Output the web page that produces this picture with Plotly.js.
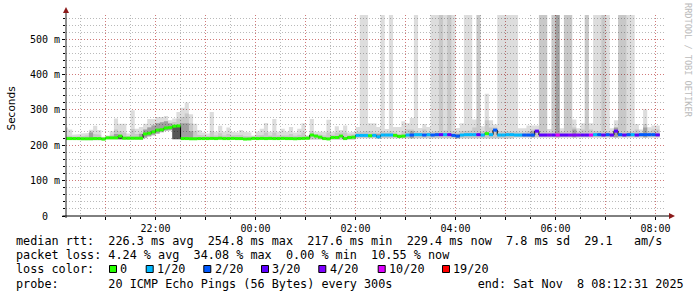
<!DOCTYPE html>
<html>
<head>
<meta charset="utf-8">
<script src="https://cdn.plot.ly/plotly-3.0.1.min.js"></script>
<style>
html,body{margin:0;padding:0;background:#fff;}
#chart{width:697px;height:297px;}
</style>
</head>
<body>
<div id="chart"></div>
<script>
// ---------------- DATA ----------------
// 5-minute steps starting 2025-11-07 20:10 (UTC wall clock), 143 steps
const seriesStart = '2025-11-07T20:10:00Z';
const stepSeconds = 300;
const viewStart = '2025-11-07 20:12:31';
const viewEnd = '2025-11-08 08:12:31';

// median rtt per step (ms)
const medianRtt = [
219,219,219,219,218.5,218.5,218.5,219,219,
217.6,
221,221,221,
226,
220,220,220,220,220,
232,234,
238,
243,244,
249,250,
254,254.8,
219,219,218.5,218.5,219,219,219,219.5,219,220,219,219,219.5,219,219,
217.6,218,
219.5,219,219.5,219,219.5,219,219,219.5,219,219,218.5,219,219.5,
220,229,226,223,219,218,222,222,226,219,222,223,
228,228,228,
227,228,224,229,229,229,228,225,226,229,229,230,230,229,230,229,230,230,230,230,228,226,229,230,230,230,230,229,233,230,243,229,229,230,230,
229,229,229,229,229,240,229,229,229,229,229,229,229,229,229,229,229,229,229,230,230,229,230,229,240,230,229,230,230,229,230,230,230,230,229.4
];

// lost pings (of 20) per step
const lossCount = [
0,0,0,0,0,0,0,0,0,0, 0,0,0,0,0,0,0,0,0,0,
0,0,0,0,0,0,0,0,0,0, 0,0,0,0,0,0,0,0,0,0,
0,0,0,0,0,0,0,0,0,0, 0,0,0,0,0,0,0,0,0,0,
0,0,0,0,0,0,0,0,0,0,
1,1,1,
0,1,1,1,1,1,0,0,0,1,2,1,1,2,1,2,2,3,1,3,2,2,1,1,1,1,3,1,0,1,2,1,1,1,1,
1,1,2,2,2,3,3,3,4,3,10,3,3,4,4,4,3,3,10,1,2,3,2,3,3,2,3,2,1,3,2,2,2,2,3
];

// smoke: lowest ping, upper edge of the medium band, highest ping (ms)
const smokeMin = [
215,215,215,215,215,215,215,215,215,
214,
217,217,217,217,
216,216,216,216,216,
220,224,228,232,236,240,242,
217,217,217,217,
215,215,215,215,215,215,215,215,215,215,215,215,215,215,
215,215,215,215,215,215,215,215,215,215,215,215,215,215,
216,216,216,216,216,216,216,216,216,216,216,216,
220,220,220,
219,219,219,219,219,219,219,219,219,219,219,219,219,219,219,219,219,219,
219,219,219,219,219,219,219,219,219,219,219,219,219,219,219,219,219,
222,222,222,222,222,222,222,222,222,222,222,222,222,222,222,222,222,222,
222,222,222,222,222,222,222,222,222,222,222,222,222,222,222,222,222
];
const smokeMid = [
228,226,224,226,226,228,240,232,230,222,226,230,
245,240,236,226,246,232,236,
245,252,258,262,265,268,262,266,275,280,290,
262,240,230,228,226,240,228,234,228,232,228,228,230,226,226,224,
228,230,236,228,236,228,230,228,232,227,230,236,226,
240,232,230,228,236,230,236,234,236,230,232,236,
238,240,
240,236,235,240,236,240,236,232,240,245,245,240,236,245,236,238,240,
569,242,569,240,236,240,240,242,250,569,240,271,250,250,240,238,240,240,
238,236,236,240,245,245,569,569,236,569,569,238,569,569,250,238,245,569,
245,240,240,569,240,236,250,569,569,240,238,245,236,260,240,245,245
];
const smokeMax = [
250,245,230,232,233,235,244,255,243,224,228,240,
276,261,261,233,299,247,252,
261,274,274,280,280,283,271,276,294,306,321,
288,261,243,236,233,294,238,255,238,250,238,236,243,238,236,228,
238,247,263,238,274,238,247,238,252,236,247,262,228,
274,238,236,238,272,238,254,243,256,236,238,252,
569,569,
262,262,252,569,246,569,252,252,268,262,277,569,249,260,252,569,569,
569,569,569,569,249,262,569,569,273,569,254,346,271,259,569,569,569,569,
569,248,248,256,256,256,569,569,246,569,569,248,569,569,273,248,262,569,
262,569,569,569,569,248,271,569,569,569,569,260,245,302,251,256,256
];
// darker smoke patches (step index, low, high)
const darkSteps = [6,12,18,19,20,21,22,23,24,25,28,29,30,75,83,94,112,118,122,132,139];
const darkLow   = [217,218,218,222,226,230,234,238,242,244,217,217,217,219,219,219,222,222,222,222,222];
const darkHigh  = [236,232,232,245,250,256,262,265,268,262,262,262,240,232,240,232,240,569,245,250,250];
// darkest core patches
const coreSteps = [13,26,27];
const coreLow   = [217,217,217];
const coreHigh  = [229,256,256];

// loss colour legend
const lossBinFrom  = [0,1,2,3,4,10,19];
const lossColors   = ['#26ff00','#00b8ff','#0059ff','#5e00ff','#7e00ff','#dd00ff','#ff0000'];
const lossLabels   = ['0','1/20','2/20','3/20','4/20','10/20','19/20'];

// axis ticks
const xTickVals = ['2025-11-07 21:00','2025-11-07 22:00','2025-11-07 23:00','2025-11-08 00:00','2025-11-08 01:00','2025-11-08 02:00','2025-11-08 03:00','2025-11-08 04:00','2025-11-08 05:00','2025-11-08 06:00','2025-11-08 07:00','2025-11-08 08:00'];
const xTickText = ['','22:00','','00:00','','02:00','','04:00','','06:00','','08:00'];
const yTickVals = [0,100,200,300,400,500];
const yTickText = ['0\u00a0\u00a0','100 m','200 m','300 m','400 m','500 m'];

// legend text
const statRows = [
 'median rtt:  226.3 ms avg  254.8 ms max  217.6 ms min  229.4 ms now  7.8 ms sd  29.1   am/s',
 'packet loss: 4.24 % avg  34.08 % max  0.00 % min  10.55 % now',
 'loss color:',
 'probe:       20 ICMP Echo Pings (56 Bytes) every 300s            end: Sat Nov  8 08:12:31 2025'
];
const watermark = 'RRDTOOL / TOBI OETIKER';
const yTitle = 'Seconds';

// ---------------- BUILD ----------------
const stepMs = stepSeconds * 1000;
const t0 = Date.parse(seriesStart);
const stepStart = medianRtt.map((_, k) => t0 + k * stepMs);

const MONO = 'DejaVu Sans Mono, monospace';
const traces = [];

// stepped smoke band drawn as one filled polygon per run of steps (no seams)
function smokeBand(steps, lo, hi, color) {
  const xs = [], ys = [];
  let run = [];
  const flush = () => {
    if (!run.length) return;
    run.forEach(i => { xs.push(stepStart[steps[i]], stepStart[steps[i]] + stepMs); ys.push(hi[i], hi[i]); });
    run.slice().reverse().forEach(i => { xs.push(stepStart[steps[i]] + stepMs, stepStart[steps[i]]); ys.push(lo[i], lo[i]); });
    xs.push(null); ys.push(null);
    run = [];
  };
  steps.forEach((k, i) => {
    if (run.length && steps[run[run.length - 1]] !== k - 1) flush();
    run.push(i);
  });
  flush();
  return {type: 'scatter', mode: 'lines', x: xs, y: ys, fill: 'toself',
    fillcolor: color, line: {width: 0, color: color}, hoverinfo: 'skip', connectgaps: false};
}
const allSteps = medianRtt.map((_, k) => k);
traces.push(smokeBand(allSteps, smokeMin, smokeMax, 'rgba(0,0,0,0.133)'));
traces.push(smokeBand(allSteps, smokeMin, smokeMid, 'rgba(0,0,0,0.095)'));
traces.push(smokeBand(darkSteps, darkLow, darkHigh, 'rgba(0,0,0,0.2)'));
traces.push(smokeBand(coreSteps, coreLow, coreHigh, 'rgba(0,0,0,0.57)'));

// thin black median (visible at the steps)
traces.push({
  type: 'scatter', mode: 'lines',
  x: stepStart.concat([stepStart[stepStart.length - 1] + stepMs]),
  y: medianRtt.concat([medianRtt[medianRtt.length - 1]]),
  line: {color: '#000', width: 1, shape: 'hv'}, hoverinfo: 'skip'
});

function binOf(l) {
  let b = 0;
  for (let i = 0; i < lossBinFrom.length; i++) if (l >= lossBinFrom[i]) b = i;
  return b;
}
lossColors.forEach((c, bi) => {
  const xs = [], ys = [];
  medianRtt.forEach((m, k) => {
    if (binOf(lossCount[k]) === bi) {
      xs.push(stepStart[k], stepStart[k] + stepMs, null);
      ys.push(m, m, null);
    }
  });
  if (xs.length) traces.push({
    type: 'scatter', mode: 'lines', x: xs, y: ys, connectgaps: false,
    line: {color: c, width: 3}, hoverinfo: 'skip'
  });
});

// pixel -> paper helpers for page decoration
const L = 66, T = 15, PW = 600, PH = 201;
const PX = x => (x - L) / PW;
const PY = y => (T + PH - y) / PH;
const nb = s => s.replace(/ /g, '\u00a0');

const annotations = [];
const rowY = [240.7, 255, 269, 283.7];
statRows.forEach((s, i) => {
  annotations.push({
    xref: 'paper', yref: 'paper', x: PX(14.2), y: PY(rowY[i]),
    xanchor: 'left', yanchor: 'middle', showarrow: false,
    text: nb(s), font: {family: MONO, size: 11.8, color: '#000'}
  });
});
const sqX = [109, 145.7, 203.3, 261, 318.3, 377.7, 442];
const shapes = [];
lossColors.forEach((c, i) => {
  shapes.push({type: 'rect', xref: 'paper', yref: 'paper',
    x0: PX(sqX[i] + 0.5), x1: PX(sqX[i] + 7.5), y0: PY(272.5), y1: PY(265.5),
    fillcolor: c, line: {color: '#000', width: 1}});
  annotations.push({
    xref: 'paper', yref: 'paper', x: PX(sqX[i] + 9.3), y: PY(rowY[2]),
    xanchor: 'left', yanchor: 'middle', showarrow: false,
    text: lossLabels[i], font: {family: MONO, size: 11.8, color: '#000'}
  });
});
annotations.push({
  xref: 'paper', yref: 'paper', x: PX(688), y: PY(60),
  xanchor: 'center', yanchor: 'middle', showarrow: false, textangle: 90,
  text: nb(watermark), font: {family: MONO, size: 8.6, color: '#bbbbbb'}
});
annotations.push({
  xref: 'paper', yref: 'paper', x: PX(10.5), y: PY(109),
  xanchor: 'center', yanchor: 'middle', showarrow: false, textangle: -90,
  text: yTitle, font: {family: 'DejaVu Sans, sans-serif', size: 10.5, color: '#000'}
});

// axis arrows / extensions
shapes.push({type: 'line', xref: 'paper', yref: 'paper', x0: PX(66), x1: PX(66), y0: PY(218), y1: PY(10), line: {color: '#222', width: 1}});
shapes.push({type: 'line', xref: 'paper', yref: 'paper', x0: PX(62.5), x1: PX(670), y0: PY(216), y1: PY(216), line: {color: '#000', width: 1}});
shapes.push({type: 'path', xref: 'paper', yref: 'paper',
  path: `M ${PX(63)} ${PY(13)} L ${PX(69)} ${PY(13)} L ${PX(66)} ${PY(7)} Z`,
  fillcolor: '#8b1a1a', line: {width: 0}});
shapes.push({type: 'path', xref: 'paper', yref: 'paper',
  path: `M ${PX(669)} ${PY(213)} L ${PX(669)} ${PY(219)} L ${PX(675)} ${PY(216)} Z`,
  fillcolor: '#8b1a1a', line: {width: 0}});

const gridMajor = 'rgba(225,70,70,0.55)';
const gridMinor = 'rgba(140,140,140,0.6)';
const layout = {
  width: 697, height: 297,
  margin: {l: L, r: 697 - L - PW, t: T, b: 297 - T - PH, pad: 0},
  paper_bgcolor: '#ffffff', plot_bgcolor: '#ffffff',
  showlegend: false,
  xaxis: {
    type: 'date', range: [viewStart, viewEnd], fixedrange: true,
    tickmode: 'array', tickvals: xTickVals, ticktext: xTickText,
    ticks: 'outside', ticklen: 3, tickcolor: '#000', tickwidth: 1,
    tickfont: {family: MONO, size: 10, color: '#000'},
    showline: false, zeroline: false,
    showgrid: true, gridcolor: gridMajor, griddash: '1px,2px', gridwidth: 1,
    minor: {dtick: 1800000, tick0: '2025-11-07 20:00', showgrid: true,
      gridcolor: gridMinor, griddash: '1px,2px', gridwidth: 1,
      ticks: 'outside', ticklen: 2, tickcolor: '#000'}
  },
  yaxis: {
    range: [0, 568.5], fixedrange: true,
    tickmode: 'array', tickvals: yTickVals, ticktext: yTickText,
    ticks: 'outside', ticklen: 3, tickcolor: '#000', tickwidth: 1,
    tickfont: {family: MONO, size: 10, color: '#000'},
    showline: false, zeroline: false,
    showgrid: true, gridcolor: gridMajor, griddash: '1px,2px', gridwidth: 1,
    minor: {dtick: 20, tick0: 0, showgrid: true,
      gridcolor: gridMinor, griddash: '1px,2px', gridwidth: 1,
      ticks: 'outside', ticklen: 2, tickcolor: '#000'}
  },
  annotations: annotations,
  shapes: shapes
};

Plotly.newPlot('chart', traces, layout, {displayModeBar: false, staticPlot: true});
</script>
</body>
</html>
